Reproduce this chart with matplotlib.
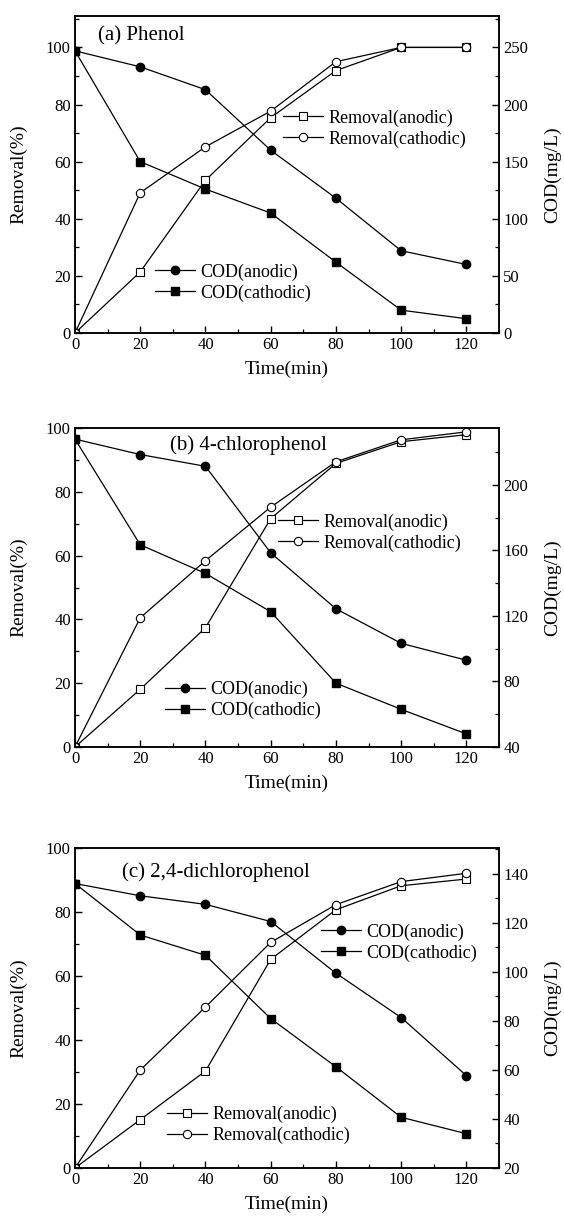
import matplotlib
matplotlib.use("Agg")
import matplotlib.pyplot as plt
from matplotlib.ticker import MultipleLocator

plt.rcParams['font.family'] = ['Liberation Serif', 'DejaVu Serif']
plt.rcParams['mathtext.fontset'] = 'stix'

time = [0, 20, 40, 60, 80, 100, 120]

# (a) Phenol
a_rem_anodic = [0, 21.4, 53.5, 75.4, 91.9, 100, 100]
a_rem_cathodic = [0, 49.1, 65.2, 77.7, 95.0, 100, 100]
a_cod_anodic = [247, 233, 213, 160, 118, 72, 60]
a_cod_cathodic = [247, 150, 126, 105, 62, 20, 12.5]

# (b) 4-chlorophenol
b_rem_anodic = [0, 18.1, 37.4, 71.6, 88.9, 95.7, 97.9]
b_rem_cathodic = [0, 40.5, 58.4, 75.2, 89.4, 96.3, 98.8]
b_cod_anodic = [228, 218.6, 211.4, 158.6, 124.4, 103.3, 93]
b_cod_cathodic = [228, 163.5, 146, 122.6, 79, 63, 48]

# (c) 2,4-dichlorophenol
c_rem_anodic = [0, 15.1, 30.3, 65.2, 80.7, 88.2, 90.3]
c_rem_cathodic = [0, 30.6, 50.3, 70.5, 82.3, 89.5, 92.1]
c_cod_anodic = [136.1, 131.1, 127.6, 120.6, 99.5, 81.4, 57.7]
c_cod_cathodic = [136.1, 115.1, 106.8, 81, 61.3, 40.7, 34]

titles = ["(a) Phenol", "(b) 4-chlorophenol", "(c) 2,4-dichlorophenol"]
xticks = [0, 20, 40, 60, 80, 100, 120]

W, H = 564, 1217
fig = plt.figure(figsize=(W / 100, H / 100), dpi=100)

# axes boxes in pixels: left, top, right, bottom
boxes = [(75, 16, 499, 333), (75, 428, 499, 747), (75, 848, 499, 1168)]
left_ylims = [(0, 111), (0, 100), (0, 100)]
right_ylims = [(0, 277.5), (40, 234.8), (20, 150.6)]
right_major = [50, 40, 20]
right_minor = [25, 20, 10]
title_pos = [(0.054, 0.937), (0.224, 0.947), (0.111, 0.925)]
rem_leg_pos = [(0.491, 0.645), (0.479, 0.672), (0.217, 0.134)]
cod_leg_pos = [(0.189, 0.159), (0.212, 0.147), (0.580, 0.705)]

data = [
    (a_rem_anodic, a_rem_cathodic, a_cod_anodic, a_cod_cathodic),
    (b_rem_anodic, b_rem_cathodic, b_cod_anodic, b_cod_cathodic),
    (c_rem_anodic, c_rem_cathodic, c_cod_anodic, c_cod_cathodic),
]

FS_TICK = 12
FS_LABEL = 14
FS_LEG = 13
FS_TITLE = 15
LW = 0.9
MS = 5.5

for i, (l, t, r, b) in enumerate(boxes):
    ax = fig.add_axes([l / W, 1 - b / H, (r - l) / W, (b - t) / H])
    ax2 = ax.twinx()
    ra, rc, ca, cc = data[i]

    h1, = ax.plot(time, ra, '-s', color='black', lw=LW, ms=MS, mfc='white', mec='black', mew=0.8,
                  label='Removal(anodic)')
    h2, = ax.plot(time, rc, '-o', color='black', lw=LW, ms=MS + 0.5, mfc='white', mec='black', mew=0.8,
                  label='Removal(cathodic)')
    h3, = ax2.plot(time, ca, '-o', color='black', lw=LW, ms=MS + 0.5, mfc='black', mec='black',
                   label='COD(anodic)')
    h4, = ax2.plot(time, cc, '-s', color='black', lw=LW, ms=MS, mfc='black', mec='black',
                   label='COD(cathodic)')

    ax.set_xlim(0, 130)
    ax.set_ylim(*left_ylims[i])
    ax2.set_ylim(*right_ylims[i])
    ax.set_xticks(xticks)
    ax.xaxis.set_minor_locator(MultipleLocator(10))
    ax.set_yticks([0, 20, 40, 60, 80, 100])
    ax.yaxis.set_minor_locator(MultipleLocator(10))
    ax2.yaxis.set_major_locator(MultipleLocator(right_major[i]))
    ax2.yaxis.set_minor_locator(MultipleLocator(right_minor[i]))

    for a in (ax, ax2):
        for s in a.spines.values():
            s.set_linewidth(1.1)
    ax.tick_params(axis='both', which='major', direction='in', length=5, width=1.0,
                   labelsize=FS_TICK, pad=3, top=False, right=False)
    ax.tick_params(axis='both', which='minor', direction='in', length=3, width=0.9,
                   top=False, right=False)
    ax2.tick_params(axis='y', which='major', direction='in', length=5, width=1.0,
                    labelsize=FS_TICK, pad=3)
    ax2.tick_params(axis='y', which='minor', direction='in', length=3, width=0.9)

    ax.set_xlabel('Time(min)', fontsize=FS_LABEL)
    ax.set_ylabel('Removal(%)', fontsize=FS_LABEL)
    ax2.set_ylabel('COD(mg/L)', fontsize=FS_LABEL)
    ax.xaxis.set_label_coords(0.5, -0.088)
    ax.yaxis.set_label_coords(-0.112, 0.5)
    ax2.yaxis.set_label_coords(1.106, 0.5)

    ax.text(title_pos[i][0], title_pos[i][1], titles[i], transform=ax.transAxes,
            fontsize=FS_TITLE, ha='left', va='center')

    leg_kw = dict(frameon=False, fontsize=FS_LEG, loc='center left', borderpad=0,
                  borderaxespad=0, handlelength=2.2, handletextpad=0.3, labelspacing=0.2,
                  numpoints=1)
    leg1 = ax2.legend([h1, h2], ['Removal(anodic)', 'Removal(cathodic)'],
                      bbox_to_anchor=rem_leg_pos[i], **leg_kw)
    ax2.add_artist(leg1)
    ax2.legend([h3, h4], ['COD(anodic)', 'COD(cathodic)'],
               bbox_to_anchor=cod_leg_pos[i], **leg_kw)

fig.savefig('out.png', dpi=100)
